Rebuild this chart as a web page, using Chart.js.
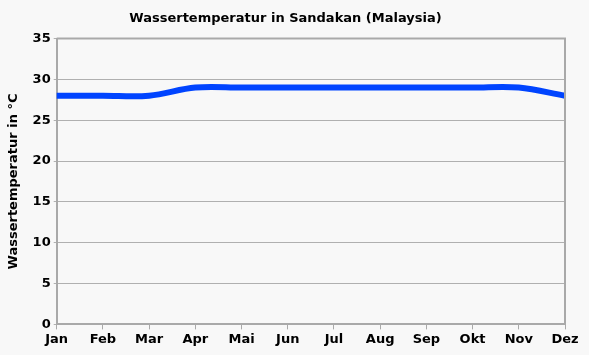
<!DOCTYPE html>
<html><head><meta charset="utf-8">
<script src="https://cdn.jsdelivr.net/npm/chart.js@4"></script>
<style>html,body{margin:0;padding:0;background:#f8f8f8;}canvas{display:block;}</style>
</head><body>
<canvas id="c" width="589" height="355"></canvas>
<script>
const months = ["Jan","Feb","Mar","Apr","Mai","Jun","Jul","Aug","Sep","Okt","Nov","Dez"];
const waterTemp = [28,28,28,29,29,29,29,29,29,29,29,28];
const titleText = "Wassertemperatur in Sandakan (Malaysia)";
const yTitle = "Wassertemperatur in °C";
const yMin = 0, yMax = 35, yStep = 5;

const FONT = "'DejaVu Sans', Verdana, sans-serif";
const bg = {
  id:'bg',
  beforeDraw(c){const x=c.ctx;x.save();x.fillStyle='#f8f8f8';x.fillRect(0,0,c.width,c.height);x.restore();},
  afterDatasetsDraw(c){const a=c.chartArea,x=c.ctx;x.save();x.strokeStyle='#a9a9a9';x.lineWidth=2;
    x.beginPath();x.moveTo(a.left,a.top);x.lineTo(a.right,a.top);x.lineTo(a.right,a.bottom);x.stroke();x.restore();}
};
new Chart(document.getElementById('c'),{
  type:'line',
  data:{labels:months,datasets:[{data:waterTemp,borderColor:'#0044ff',borderWidth:6,pointRadius:0,
    tension:0.35,fill:false}]},
  options:{
    responsive:false,animation:false,
    layout:{padding:{left:6,right:24,top:5,bottom:6}},
    plugins:{legend:{display:false},tooltip:{enabled:false},
      title:{display:true,text:titleText,color:'#000',font:{family:FONT,size:13,weight:'bold'},padding:{top:6,bottom:12}}},
    scales:{
      x:{offset:false,grid:{drawOnChartArea:false,drawTicks:true,tickLength:5,color:'#a9a9a9',lineWidth:1},
        border:{color:'#a9a9a9',width:2},
        ticks:{color:'#000',font:{family:FONT,size:13,weight:'bold'},padding:2,maxRotation:0,autoSkip:false}},
      y:{min:yMin,max:yMax,grid:{color:'#b0b0b0',lineWidth:1,tickLength:3},
        border:{color:'#a9a9a9',width:2},
        ticks:{stepSize:yStep,color:'#000',font:{family:FONT,size:13,weight:'bold'},padding:3},
        title:{display:true,text:yTitle,color:'#000',font:{family:FONT,size:13,weight:'bold'},padding:{top:0,bottom:8}}}
    }
  },
  plugins:[bg]
});
</script>
</body></html>
